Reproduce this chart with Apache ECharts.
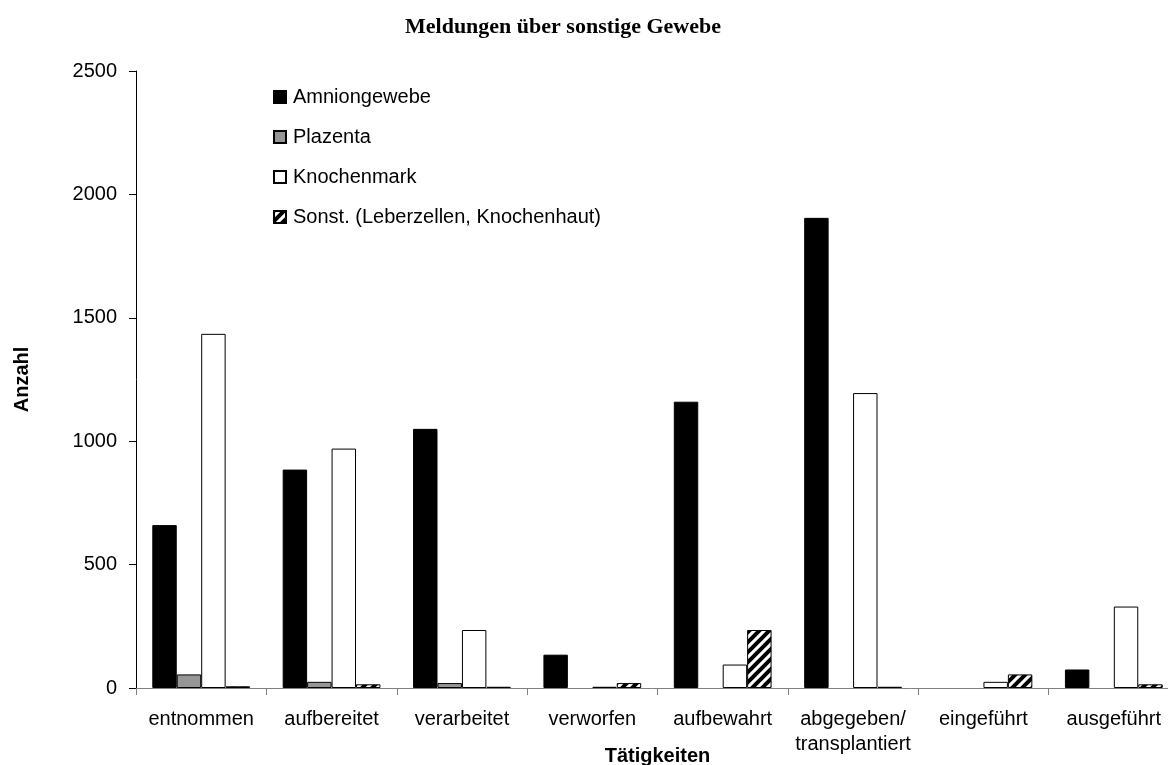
<!DOCTYPE html>
<html>
<head>
<meta charset="utf-8">
<script src="https://cdn.jsdelivr.net/npm/echarts@6/dist/echarts.min.js"></script>
<style>
  html, body { margin: 0; padding: 0; background: #fff; }
  #chart { width: 1168px; height: 765px; }
</style>
</head>
<body>
<div id="chart"></div>
<script>
const categories = ['entnommen', 'aufbereitet', 'verarbeitet', 'verworfen', 'aufbewahrt', 'abgegeben/\ntransplantiert', 'eingeführt', 'ausgeführt']
const amnion = [660, 885, 1050, 135, 1160, 1905, 0, 75]
const plazenta = [55, 25, 20, 0, 0, 0, 0, 0]
const knochenmark = [1435, 970, 235, 5, 95, 1195, 25, 330]
const sonstige = [7, 15, 5, 20, 235, 5, 55, 15]
const yTicks = [0, 500, 1000, 1500, 2000, 2500]

// diagonal hatch for "Sonst."
function hatch() {
  const c = document.createElement('canvas')
  c.width = 10
  c.height = 10
  const ctx = c.getContext('2d')
  ctx.fillStyle = '#fff'
  ctx.fillRect(0, 0, 10, 10)
  ctx.strokeStyle = '#000'
  ctx.lineWidth = 4
  ctx.beginPath()
  ctx.moveTo(-5, 5); ctx.lineTo(5, -5)
  ctx.moveTo(0, 10); ctx.lineTo(10, 0)
  ctx.moveTo(5, 15); ctx.lineTo(15, 5)
  ctx.stroke()
  return c
}

const nz = arr => arr.map(v => (v === 0 ? null : v))
const font = 'Liberation Sans, Arial, sans-serif'

function bar(name, data, color) {
  return {
    name,
    type: 'bar',
    data: nz(data),
    barGap: '0%',
    barCategoryGap: '25%',
    itemStyle: { color, borderColor: '#000', borderWidth: 1 },
    emphasis: { disabled: true }
  }
}

const chart = echarts.init(document.getElementById('chart'))
chart.setOption({
  animation: false,
  title: {
    text: 'Meldungen über sonstige Gewebe',
    left: 400,
    top: 11,
    textStyle: { fontFamily: 'Liberation Serif, Times New Roman, serif', fontWeight: 'bold', fontSize: 22, color: '#000' }
  },
  legend: {
    orient: 'vertical',
    left: 268,
    top: 82,
    itemWidth: 12,
    itemHeight: 12,
    itemGap: 20,
    icon: 'rect',
    textStyle: { fontFamily: font, fontSize: 20, color: '#000', padding: [0, 0, 0, 2] },
    data: ['Amniongewebe', 'Plazenta', 'Knochenmark', 'Sonst. (Leberzellen, Knochenhaut)']
  },
  grid: { left: 136, right: -11, top: 71, bottom: 77, containLabel: false, outerBoundsMode: 'none' },
  xAxis: {
    type: 'category',
    data: categories,
    name: 'Tätigkeiten',
    nameLocation: 'middle',
    nameGap: 58,
    nameMoveOverlap: false,
    nameTextStyle: { fontFamily: font, fontSize: 20, fontWeight: 'bold', color: '#000' },
    axisLine: { lineStyle: { color: '#808080', width: 1 } },
    axisTick: { show: true, length: 7, lineStyle: { color: '#808080' } },
    axisLabel: { fontFamily: font, fontSize: 20, color: '#000', margin: 19, interval: 0, lineHeight: 25 }
  },
  yAxis: {
    type: 'value',
    min: yTicks[0],
    max: yTicks[yTicks.length - 1],
    interval: yTicks[1] - yTicks[0],
    name: 'Anzahl',
    nameLocation: 'middle',
    nameGap: 104,
    nameMoveOverlap: false,
    nameTextStyle: { fontFamily: font, fontSize: 20, fontWeight: 'bold', color: '#000' },
    axisLine: { show: true, lineStyle: { color: '#000', width: 1 } },
    axisTick: { show: true, length: 7, lineStyle: { color: '#000' } },
    axisLabel: { fontFamily: font, fontSize: 20, color: '#000', margin: 19, formatter: v => String(v) },
    splitLine: { show: false }
  },
  series: [
    bar('Amniongewebe', amnion, '#000'),
    bar('Plazenta', plazenta, '#969696'),
    bar('Knochenmark', knochenmark, '#fff'),
    bar('Sonst. (Leberzellen, Knochenhaut)', sonstige, { image: hatch(), repeat: 'repeat' })
  ]
})
</script>
</body>
</html>
